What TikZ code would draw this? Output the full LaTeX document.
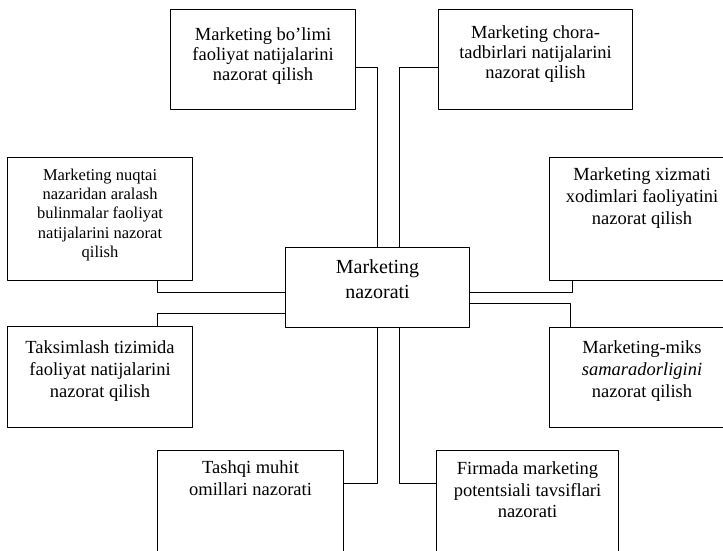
\documentclass[tikz,border=0pt]{standalone}
\usepackage{fontspec}
\setmainfont{Liberation Serif}
\usetikzlibrary{calc}
\newcommand{\matn}[4]{\parbox[c][#2][t]{#1}{\centering\vspace*{#3}#4}}

\begin{document}
\begin{tikzpicture}[x=1pt,y=-1pt,line join=round, line cap=round]%Marketing nazorati
                          \tikzset{quti/.style={draw,line width=1.1pt,anchor=north west,inner sep=0pt,font=\fontsize{18.5}{22}\selectfont},
                                   yuqori/.style={quti,font=\fontsize{18.5}{20}\selectfont},
                                   kichik/.style={quti,font=\fontsize{16.5}{19.5}\selectfont},
                                   chiziq/.style={line width=1.1pt}}
                          \useasboundingbox(0,0)rectangle(723,551);
                          \clip(0,0)rectangle(723,551);
                          \node[quti,font=\fontsize{20}{25}\selectfont](markaz)at(285,247){\matn{184pt}{80pt}{12pt}{Marketing\\nazorati}};% markaziy blok
                          \node[yuqori](bolim)at(170,9){\matn{185pt}{100pt}{18pt}{Marketing bo'limi\\faoliyat natijalarini\\nazorat qilish}};
                          \node[yuqori](chora)at(438,9){\matn{194pt}{100pt}{16pt}{Marketing chora-\\tadbirlari natijalarini\\nazorat qilish}};
                          \node[kichik](nuqtai)at(7,157){\matn{185pt}{123pt}{11pt}{Marketing nuqtai\\nazaridan aralash\\bulinmalar faoliyat\\natijalarini nazorat\\qilish}};
                          \node[quti](xizmat)at(549,157){\matn{185pt}{123pt}{10pt}{Marketing xizmati\\xodimlari faoliyatini\\nazorat qilish}};
                          \node[quti](taksim)at(7,326){\matn{185pt}{101pt}{14pt}{Taksimlash tizimida\\faoliyat natijalarini\\nazorat qilish}};
                          \node[quti](miks)at(549,327){\matn{185pt}{100pt}{13pt}{Marketing-miks\\\textit{samaradorligini}\\nazorat qilish}};
                          \node[quti,font=\fontsize{18.5}{21.5}\selectfont](tashqi)at(157,450){\matn{186pt}{120pt}{10.5pt}{Tashqi muhit\\omillari nazorati}};
                          \node[quti,font=\fontsize{18.5}{21.5}\selectfont](firma)at(436,450){\matn{182pt}{120pt}{11.5pt}{Firmada marketing\\potentsiali tavsiflari\\nazorati}};
                          % ulovchi chiziqlar
                          \draw[chiziq]([yshift=-8pt]bolim.east)-|(markaz.north)
                                       ([yshift=-8pt]chora.west)-|([xshift=22pt]markaz.north)
                                       ([xshift=57.5pt]nuqtai.south)|-([yshift=-5pt]markaz.west)
                                       ([xshift=57.5pt]taksim.north)|-([yshift=-26pt]markaz.west)
                                       ([xshift=-69.5pt]xizmat.south)|-([yshift=-5pt]markaz.east)
                                       ([xshift=-71.5pt]miks.north)|-([yshift=-16pt]markaz.east)
                                       (markaz.south)|-([yshift=27pt]tashqi.east)
                                       ([xshift=22pt]markaz.south)|-([yshift=27pt]firma.west);
                      \end{tikzpicture}
\end{document}
